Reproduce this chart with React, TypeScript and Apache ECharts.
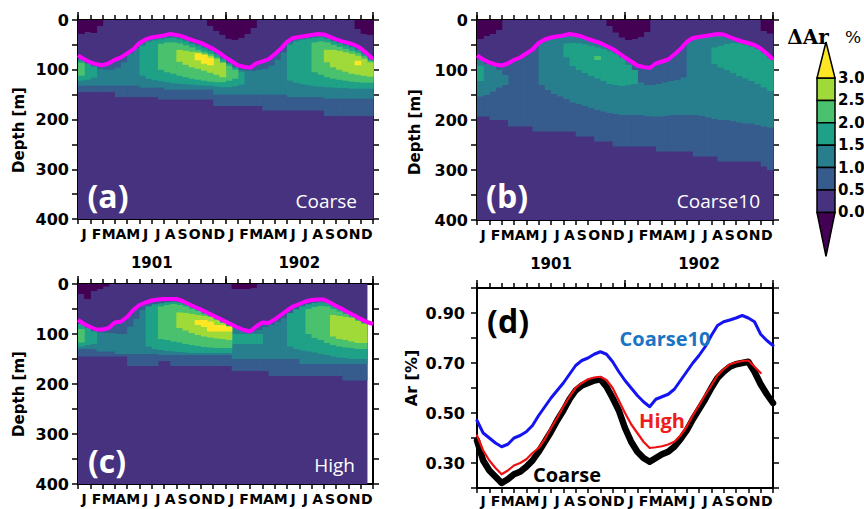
import React, { useEffect, useRef } from 'react';
import * as echarts from 'echarts';

type Span = [number, number] | null; // [top depth, bottom depth] for one half-month column
type Patch = [number, number, number]; // [column, top depth, bottom depth]

const MONTHS = ['J', 'F', 'M', 'A', 'M', 'J', 'J', 'A', 'S', 'O', 'N', 'D', 'J', 'F', 'M', 'A', 'M', 'J', 'J', 'A', 'S', 'O', 'N', 'D'];
const YEARS = ['1901', '1902'];
const HALF = 0.5; // model output column width in months
const CB_TICKS = ['3.0', '2.5', '2.0', '1.5', '1.0', '0.5', '0.0'];
// <0, 0-0.5, 0.5-1, 1-1.5, 1.5-2, 2-2.5, 2.5-3, >3
const LEVEL_COLORS = ['#440154', '#46327e', '#365c8d', '#277f8e', '#1fa187', '#4ac16d', '#a0da39', '#fde725'];

// ---------- mixed layer depth (m), every half month from Jan 1901 ----------
const mldCoarse = [71, 79, 85, 89, 91, 87, 80, 75, 67, 59, 46, 39, 35, 33, 31, 28, 30, 33, 38, 42, 46, 52, 58, 66, 75, 83, 91, 94, 96, 87, 83, 79, 69, 58, 44, 36, 34, 32, 30, 28, 29, 34, 39, 43, 46, 50, 57, 67, 79];
const mldHigh = [72, 80, 86, 91, 91, 88, 77, 75, 66, 52, 42, 37, 33, 31, 30, 30, 30, 34, 40, 46, 51, 57, 63, 69, 75, 81, 87, 92, 95, 85, 77, 78, 71, 62, 53, 45, 40, 35, 32, 31, 31, 37, 44, 50, 57, 63, 70, 76, 80];

// ---------- panel (d): Ar [%], every half month ----------
const arCoarse = [0.39, 0.31, 0.27, 0.245, 0.22, 0.235, 0.255, 0.265, 0.285, 0.31, 0.345, 0.385, 0.425, 0.47, 0.51, 0.555, 0.59, 0.61, 0.62, 0.63, 0.635, 0.605, 0.56, 0.51, 0.44, 0.385, 0.345, 0.32, 0.305, 0.32, 0.335, 0.345, 0.365, 0.395, 0.43, 0.475, 0.515, 0.555, 0.6, 0.64, 0.665, 0.685, 0.695, 0.7, 0.705, 0.665, 0.615, 0.575, 0.54];
const arCoarse10 = [0.47, 0.42, 0.4, 0.38, 0.365, 0.375, 0.4, 0.41, 0.425, 0.45, 0.49, 0.525, 0.56, 0.59, 0.62, 0.655, 0.69, 0.71, 0.72, 0.735, 0.745, 0.735, 0.705, 0.665, 0.63, 0.6, 0.57, 0.545, 0.525, 0.555, 0.565, 0.575, 0.595, 0.63, 0.665, 0.7, 0.73, 0.765, 0.81, 0.85, 0.865, 0.872, 0.88, 0.89, 0.88, 0.865, 0.815, 0.79, 0.77];
const arHigh = [0.41, 0.35, 0.31, 0.28, 0.255, 0.27, 0.29, 0.3, 0.315, 0.34, 0.36, 0.395, 0.44, 0.48, 0.525, 0.565, 0.6, 0.62, 0.635, 0.642, 0.645, 0.632, 0.6, 0.55, 0.5, 0.455, 0.42, 0.385, 0.36, 0.363, 0.367, 0.374, 0.385, 0.41, 0.445, 0.49, 0.53, 0.572, 0.61, 0.65, 0.675, 0.695, 0.702, 0.708, 0.71, 0.685, 0.66];

// ---------- panel (a) Coarse: depth ranges where dAr exceeds each level ----------
const coarseNeg: Patch[] = [[0, 0, 28], [1, 0, 24], [2, 0, 26], [3, 0, 12], [21, 0, 12], [22, 0, 22], [23, 0, 30], [24, 0, 38], [25, 0, 40], [26, 0, 36], [27, 0, 28], [28, 0, 16], [45, 0, 18], [46, 0, 28], [47, 0, 30]];
const coarse05: Span[] = [[77, 145], [84, 145], [89, 145], [92, 145], [91, 145], [86, 145], [80, 155], [73, 155], [65, 155], [55, 155], [45, 155], [39, 155], [36, 155], [34, 160], [32, 160], [31, 160], [34, 160], [38, 160], [42, 160], [46, 160], [51, 160], [57, 160], [64, 173], [73, 173], [81, 173], [89, 173], [95, 173], [97, 173], [94, 173], [87, 173], [83, 182], [76, 182], [66, 182], [53, 182], [42, 182], [37, 182], [35, 182], [33, 182], [31, 182], [31, 182], [34, 193], [39, 193], [43, 193], [47, 193], [50, 193], [56, 193], [64, 193], [75, 193]];
const coarse10: Span[] = [[78, 132], [86, 132], [92, 132], [98, 132], [100, 132], [100, 132], [96, 132], [85, 132], [68, 132], [57, 132], [47, 136], [41, 136], [38, 136], [36, 136], [34, 140], [33, 140], [36, 140], [40, 140], [45, 140], [49, 140], [54, 140], [59, 140], [66, 150], [76, 150], [86, 150], [94, 150], [100, 150], [102, 150], [102, 150], [100, 150], [98, 150], [92, 150], [80, 150], [65, 150], [45, 155], [39, 155], [37, 155], [35, 155], [33, 155], [32, 155], [35, 158], [41, 158], [45, 158], [49, 158], [53, 158], [59, 158], [67, 158], [78, 158]];
const coarse15: Patch[] = [[0, 82, 122], [1, 88, 120], [2, 94, 116], [10, 52, 112], [11, 44, 118], [12, 41, 121], [13, 39, 123], [14, 37, 125], [15, 36, 127], [16, 39, 128], [17, 43, 129], [18, 48, 130], [19, 52, 131], [20, 57, 132], [21, 62, 132], [22, 69, 134], [23, 79, 135], [24, 88, 135], [25, 96, 133], [26, 104, 130], [34, 50, 122], [35, 43, 126], [36, 40, 129], [37, 38, 131], [38, 36, 133], [39, 35, 134], [40, 38, 135], [41, 43, 136], [42, 47, 137], [43, 51, 137], [44, 55, 138], [45, 61, 138], [46, 69, 138], [47, 79, 138]];
const coarse20: Patch[] = [[0, 86, 112], [13, 48, 100], [14, 45, 105], [15, 45, 108], [16, 47, 112], [17, 51, 115], [18, 55, 118], [19, 60, 120], [20, 64, 122], [21, 68, 124], [22, 75, 125], [23, 84, 125], [24, 92, 122], [25, 100, 118], [38, 45, 105], [39, 43, 110], [40, 45, 115], [41, 50, 118], [42, 54, 120], [43, 58, 122], [44, 62, 124], [45, 66, 125], [46, 73, 126], [47, 82, 126]];
const coarse25: Patch[] = [[16, 60, 84], [17, 62, 90], [18, 64, 95], [19, 65, 98], [20, 68, 102], [21, 72, 106], [22, 78, 110], [23, 86, 115], [40, 60, 85], [41, 60, 95], [42, 62, 100], [43, 65, 104], [44, 68, 108], [45, 72, 110], [46, 78, 112], [47, 85, 114]];
const coarse30: Patch[] = [[19, 67, 81], [20, 70, 88], [21, 76, 91], [45, 82, 91]];

// ---------- panel (b) Coarse10 ----------
const c10Neg: Patch[] = [[0, 0, 38], [1, 0, 32], [2, 0, 28], [3, 0, 20], [21, 0, 12], [22, 0, 25], [23, 0, 35], [24, 0, 40], [25, 0, 38], [26, 0, 34], [27, 0, 24], [46, 0, 22], [47, 0, 27]];
const c10_05: Span[] = [[77, 193], [84, 193], [89, 200], [92, 200], [91, 200], [86, 213], [80, 213], [73, 213], [65, 213], [55, 223], [45, 223], [39, 223], [36, 223], [34, 223], [32, 223], [31, 223], [34, 233], [38, 233], [42, 233], [46, 243], [51, 243], [57, 243], [64, 253], [73, 253], [81, 253], [89, 253], [95, 253], [97, 253], [94, 253], [87, 263], [83, 263], [76, 263], [66, 263], [53, 263], [42, 263], [37, 273], [35, 273], [33, 273], [31, 273], [31, 283], [34, 283], [39, 283], [43, 283], [47, 283], [50, 283], [56, 283], [64, 293], [75, 300]];
const c10_10: Span[] = [[80, 153], [88, 150], [92, 143], [100, 135], [110, 130], null, null, null, null, null, [45, 130], [40, 140], [37, 148], [35, 153], [33, 158], [32, 165], [35, 168], [39, 172], [43, 176], [47, 180], [52, 183], [58, 186], [65, 188], [74, 190], [83, 190], [100, 190], [125, 190], [130, 192], [130, 193], [128, 193], [125, 192], [122, 190], [120, 190], [115, 190], [43, 190], [38, 190], [36, 192], [34, 195], [32, 198], [32, 200], [35, 200], [40, 202], [44, 205], [48, 207], [51, 207], [57, 210], [65, 213], [76, 215]];
const c10_15: Patch[] = [[0, 92, 122], [14, 47, 75], [15, 46, 92], [16, 47, 100], [17, 49, 106], [18, 52, 112], [19, 55, 117], [20, 58, 122], [21, 63, 128], [22, 68, 130], [23, 76, 132], [24, 90, 130], [25, 100, 128], [38, 55, 88], [39, 52, 95], [40, 48, 100], [41, 46, 106], [42, 47, 112], [43, 50, 117], [44, 54, 122], [45, 58, 128], [46, 66, 135], [47, 77, 142]];
const c10_20: Patch[] = [[19, 72, 80]];

// ---------- panel (c) High ----------
const highNeg: Patch[] = [[0, 0, 20], [1, 0, 30], [2, 0, 14], [3, 0, 10], [4, 0, 5], [25, 0, 10], [26, 0, 10], [27, 0, 10], [28, 0, 8]];
const high05: Span[] = [[78, 145], [85, 145], [91, 145], [93, 145], [92, 145], [85, 145], [78, 145], [73, 145], [61, 164], [49, 164], [42, 164], [37, 164], [34, 164], [33, 154], [32, 154], [32, 164], [34, 164], [39, 164], [45, 164], [51, 164], [56, 164], [62, 164], [68, 164], [74, 164], [80, 164], [86, 174], [92, 174], [96, 174], [92, 174], [83, 174], [80, 174], [77, 184], [69, 184], [60, 184], [51, 184], [45, 184], [40, 184], [36, 184], [34, 184], [33, 184], [36, 184], [43, 184], [49, 184], [56, 193], [62, 193], [69, 193], [75, 193]];
const high10: Span[] = [[79, 130], [87, 130], [94, 130], [97, 135], [97, 135], [98, 135], [100, 140], [100, 140], [85, 140], [70, 140], [52, 140], [44, 140], [40, 140], [38, 142], [36, 142], [35, 142], [36, 142], [39, 142], [45, 142], [51, 142], [56, 142], [62, 142], [68, 142], [75, 142], [82, 142], [88, 150], [92, 150], [97, 150], [95, 150], [92, 150], [86, 150], [82, 150], [76, 150], [68, 150], [58, 150], [50, 150], [44, 160], [40, 160], [37, 160], [35, 160], [36, 160], [43, 160], [49, 160], [56, 160], [62, 160], [69, 160], [76, 160]];
const high15: Patch[] = [[0, 80, 125], [1, 88, 122], [2, 95, 120], [11, 45, 125], [12, 41, 130], [13, 39, 132], [14, 37, 134], [15, 36, 135], [16, 37, 136], [17, 41, 137], [18, 46, 138], [19, 52, 138], [20, 57, 138], [21, 63, 138], [22, 69, 138], [23, 76, 138], [24, 83, 138], [25, 100, 120], [26, 100, 120], [27, 100, 120], [28, 100, 120], [29, 100, 120], [34, 58, 125], [35, 51, 130], [36, 45, 133], [37, 41, 135], [38, 38, 137], [39, 37, 140], [40, 38, 142], [41, 44, 145], [42, 50, 147], [43, 57, 148], [44, 63, 150], [45, 70, 150], [46, 77, 150]];
const high20: Patch[] = [[0, 90, 117], [13, 45, 110], [14, 42, 112], [15, 40, 115], [16, 42, 117], [17, 45, 120], [18, 50, 122], [19, 54, 124], [20, 60, 126], [21, 64, 127], [22, 70, 128], [23, 77, 128], [24, 84, 128], [37, 50, 100], [38, 46, 108], [39, 44, 112], [40, 45, 118], [41, 50, 122], [42, 55, 125], [43, 60, 127], [44, 65, 128], [45, 72, 130], [46, 78, 130]];
const high25: Patch[] = [[16, 57, 88], [17, 58, 93], [18, 60, 98], [19, 62, 102], [20, 64, 105], [21, 66, 107], [22, 72, 109], [23, 78, 110], [24, 85, 112], [41, 62, 105], [42, 64, 110], [43, 66, 112], [44, 68, 115], [45, 74, 118], [46, 80, 118]];
const high30: Patch[] = [[19, 72, 82], [20, 72, 86], [21, 75, 95], [22, 82, 95], [23, 82, 95], [24, 85, 95]];

// ---------- layout ----------
const GRIDS = [
  { left: 78, top: 20, width: 295, height: 199 },
  { left: 477, top: 20, width: 296, height: 200 },
  { left: 78, top: 284, width: 295, height: 200 },
  { left: 477, top: 288, width: 296, height: 200 },
];

function heatItems(ncols: number, neg: Patch[], dense: Span[][], patches: Patch[][]) {
  const items: number[][] = [[0, ncols * HALF, 0, 400, 1]];
  dense.forEach((spans, k) => {
    spans.forEach((s, i) => {
      if (s) items.push([i * HALF, (i + 1) * HALF, s[0], s[1], k + 2]);
    });
  });
  patches.forEach((list, k) => {
    list.forEach(([c, t, b]) => items.push([c * HALF, (c + 1) * HALF, t, b, k + 2 + dense.length]));
  });
  neg.forEach(([c, t, b]) => items.push([c * HALF, (c + 1) * HALF, t, b, 0]));
  return items;
}

const renderCell = (_p: any, api: any) => {
  const p0 = api.coord([api.value(0), api.value(2)]);
  const p1 = api.coord([api.value(1), api.value(3)]);
  return {
    type: 'rect',
    shape: { x: p0[0], y: Math.min(p0[1], p1[1]), width: p1[0] - p0[0] + 0.6, height: Math.abs(p1[1] - p0[1]) },
    style: { fill: LEVEL_COLORS[api.value(4)] },
  };
};

const AXIS_LINE = { show: true, onZero: false, lineStyle: { color: '#000', width: 2 } };
const tick = (len: number) => ({ show: true, inside: false, length: len, lineStyle: { color: '#000', width: 1.5 } });
const BOLD = { color: '#000', fontWeight: 'bold' as const, fontFamily: 'DejaVu Sans' };

function buildOption() {
  const xAxis: any[] = [];
  const yAxis: any[] = [];
  const series: any[] = [];
  GRIDS.forEach((_, g) => {
    xAxis.push(
      { type: 'value', gridIndex: g, min: 0, max: 24, show: false },
      {
        type: 'category', gridIndex: g, position: 'bottom', data: MONTHS, boundaryGap: true,
        axisLine: AXIS_LINE, axisTick: { ...tick(5), interval: 0 },
        axisLabel: { ...BOLD, interval: 0, fontSize: 14, margin: g === 3 ? 6 : 8 }, splitLine: { show: false },
      },
      {
        type: 'category', gridIndex: g, position: 'top', data: MONTHS, boundaryGap: true,
        axisLine: AXIS_LINE, axisTick: { ...tick(5), interval: 0 }, axisLabel: { show: false }, splitLine: { show: false },
      },
      {
        type: 'category', gridIndex: g, position: 'top', data: YEARS, boundaryGap: true,
        axisLine: { show: false, onZero: false }, axisTick: { ...tick(8), interval: 0 }, axisLabel: { show: false }, splitLine: { show: false },
      },
      {
        type: 'category', gridIndex: g, position: 'bottom', offset: 30, data: YEARS, boundaryGap: true, show: g < 2,
        axisLine: { show: false, onZero: false }, axisTick: { show: false },
        axisLabel: { ...BOLD, fontSize: 15, margin: 6, interval: 0 }, splitLine: { show: false },
      },
    );
    const isD = g === 3;
    const range = isD ? { min: 0.2, max: 1.0, interval: 0.1 } : { min: 0, max: 400, interval: 50, inverse: true };
    const fmt = isD
      ? (v: number) => { const r = Math.round(v * 10); return r % 2 === 1 ? (r / 10).toFixed(2) : ''; }
      : (v: number) => (Math.round(v) % 100 === 0 ? String(Math.round(v)) : '');
    yAxis.push(
      {
        type: 'value', gridIndex: g, position: 'left', ...range,
        axisLine: AXIS_LINE, axisTick: tick(6),
        axisLabel: { ...BOLD, fontSize: 16, margin: isD ? 12 : 9, formatter: fmt, showMinLabel: true, showMaxLabel: true },
        splitLine: { show: false },
      },
      {
        type: 'value', gridIndex: g, position: 'right', ...range,
        axisLine: AXIS_LINE, axisTick: tick(6), axisLabel: { show: false }, splitLine: { show: false },
      },
    );
  });

  const heat = [
    heatItems(48, coarseNeg, [coarse05, coarse10], [coarse15, coarse20, coarse25, coarse30]),
    heatItems(48, c10Neg, [c10_05, c10_10], [c10_15, c10_20]),
    heatItems(47, highNeg, [high05, high10], [high15, high20, high25, high30]),
  ];
  const mlds = [mldCoarse, mldCoarse, mldHigh];
  heat.forEach((items, g) => {
    series.push({
      type: 'custom', xAxisIndex: g * 5, yAxisIndex: g * 2, data: items, renderItem: renderCell,
      encode: { x: [0, 1], y: [2, 3] }, silent: true, z: 1,
    });
    series.push({
      type: 'line', xAxisIndex: g * 5, yAxisIndex: g * 2, data: mlds[g].map((d, i) => [i * HALF, d]),
      showSymbol: false, silent: true, z: 3, lineStyle: { color: '#ff00ff', width: 4 },
    });
  });

  const dLine = (vals: number[], color: string, width: number, z: number) => ({
    type: 'line', xAxisIndex: 15, yAxisIndex: 6, data: vals.map((v, i) => [i * HALF, v]),
    showSymbol: false, silent: true, z, lineStyle: { color, width, join: 'round', cap: 'round' },
  });
  series.push(dLine(arCoarse, '#000000', 6.5, 2));
  series.push(dLine(arHigh, '#ee1111', 2.2, 3));
  series.push(dLine(arCoarse10, '#1414f0', 3, 4));

  const txt = (x: number, y: number, text: string, font: string, fill: string, align = 'center', rotation = 0) => ({
    type: 'text', x, y, rotation, silent: true, z: 100,
    style: { text, font, fill, textAlign: align, textVerticalAlign: 'middle' },
  });

  const cbX = 817, cbW = 18, cbTop = 78, cbBox = 22.4;
  const cbBottom = cbTop + 6 * cbBox;
  const colorbar: any[] = [];
  for (let i = 0; i < 6; i++) {
    colorbar.push({
      type: 'rect', silent: true, z: 100,
      shape: { x: cbX, y: cbTop + i * cbBox, width: cbW, height: cbBox },
      style: { fill: LEVEL_COLORS[6 - i], stroke: '#000', lineWidth: 1.5 },
    });
  }
  colorbar.push({
    type: 'polygon', silent: true, z: 100,
    shape: { points: [[cbX, cbTop], [cbX + cbW, cbTop], [cbX + cbW / 2, cbTop - 36]] },
    style: { fill: LEVEL_COLORS[7], stroke: '#000', lineWidth: 1.5 },
  });
  colorbar.push({
    type: 'polygon', silent: true, z: 100,
    shape: { points: [[cbX, cbBottom], [cbX + cbW, cbBottom], [cbX + cbW / 2, cbBottom + 44]] },
    style: { fill: LEVEL_COLORS[0], stroke: '#000', lineWidth: 1.5 },
  });
  CB_TICKS.forEach((t, i) => colorbar.push(txt(838, cbTop + i * cbBox, t, "bold 15px 'DejaVu Sans'", '#000', 'left')));

  const graphic = [
    ...colorbar,
    txt(808, 37, 'ΔAr', "bold 20px 'DejaVu Serif'", '#000'),
    txt(845, 37, '%', "17px 'DejaVu Serif'", '#000', 'left'),
    txt(19, 130, 'Depth [m]', "bold 15px 'DejaVu Sans'", '#000', 'center', Math.PI / 2),
    txt(415, 132, 'Depth [m]', "bold 15px 'DejaVu Sans'", '#000', 'center', Math.PI / 2),
    txt(19, 394, 'Depth [m]', "bold 15px 'DejaVu Sans'", '#000', 'center', Math.PI / 2),
    txt(411, 378, 'Ar [%]', "bold 16px 'DejaVu Sans'", '#000', 'center', Math.PI / 2),
    txt(108, 195, '(a)', "bold 32px 'Open Sans'", '#ffffff'),
    txt(507, 195, '(b)', "bold 32px 'Open Sans'", '#ffffff'),
    txt(107, 460, '(c)', "bold 32px 'Open Sans'", '#ffffff'),
    txt(508, 320, '(d)', "bold 32px 'Open Sans'", '#000000'),
    txt(357, 201, 'Coarse', "19px 'Open Sans'", '#ffffff', 'right'),
    txt(760, 201, 'Coarse10', "19px 'Open Sans'", '#ffffff', 'right'),
    txt(355, 465, 'High', "19px 'Open Sans'", '#ffffff', 'right'),
    txt(665, 338, 'Coarse10', "bold 20px 'Open Sans'", '#1a74c4'),
    txt(662, 420, 'High', "bold 20px 'Open Sans'", '#ee1c1c'),
    txt(567, 474, 'Coarse', "bold 20px 'Open Sans'", '#000000'),
  ];

  return {
    animation: false,
    backgroundColor: '#ffffff',
    grid: GRIDS.map((g) => ({ ...g, containLabel: false, outerBoundsMode: 'none' })),
    xAxis,
    yAxis,
    series,
    graphic,
  };
}

export default function App() {
  const ref = useRef<HTMLDivElement>(null);
  useEffect(() => {
    if (!ref.current) return;
    const chart = echarts.init(ref.current, undefined, { renderer: 'svg' });
    chart.setOption(buildOption() as any);
    return () => chart.dispose();
  }, []);
  return (
    <div
      ref={ref}
      style={{ position: 'fixed', left: 0, top: 0, width: 864, height: 509, background: '#fff' }}
    />
  );
}
